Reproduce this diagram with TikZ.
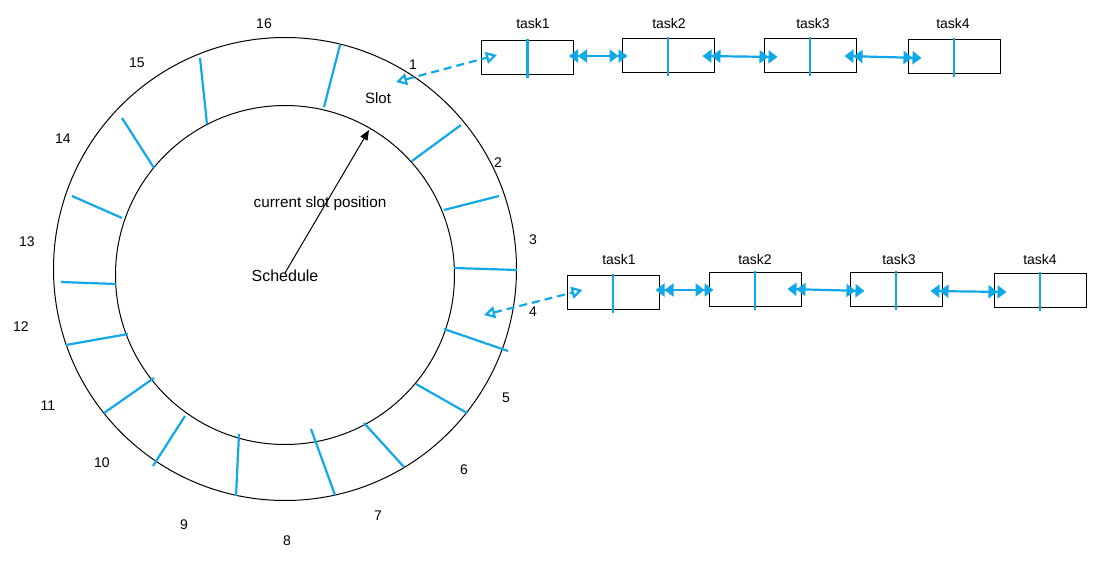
\documentclass[tikz,border=0pt]{standalone}
\usepackage{fontspec}
\setmainfont{Liberation Sans}
\usetikzlibrary{arrows.meta}
\definecolor{cyanblue}{HTML}{10A8E8}
\tikzset{
  ring/.style={circle, draw=black, line width=1pt, inner sep=0pt},
  spoke/.style={draw=cyanblue, line width=2.2pt},
  num/.style={font=\fontsize{14}{16}\selectfont, inner sep=0pt},
  lbl/.style={font=\fontsize{14}{16}\selectfont, inner sep=0pt},
  taskbox/.style={draw=black, line width=1pt, minimum width=92pt, minimum height=34pt, inner sep=0pt},
  divider/.style={draw=cyanblue, line width=2.2pt},
  link/.style={draw=cyanblue, line width=2.2pt,
     {Triangle[length=9pt,width=13pt] Triangle[length=9pt,width=13pt]}-{Triangle[length=9pt,width=13pt] Triangle[length=9pt,width=13pt]}},
  ref/.style={draw=cyanblue, line width=2.2pt, dash pattern=on 8pt off 5pt,
     {Triangle[open,length=11pt,width=12pt]}-{Triangle[open,length=11pt,width=12pt]}},
  pointer/.style={draw=black, line width=1pt, -{Triangle[length=10pt,width=8pt]}}
}
\begin{document}
\begin{tikzpicture}[x=1pt,y=-1pt]
\useasboundingbox (0,0) rectangle (1096,564);

% rings
\node[ring, minimum size=463pt] (outer) at (285,269) {};
\node[ring, minimum size=339pt] (inner) at (285,275) {};

% spokes
\draw[spoke] (340,45) -- (324,107);
\draw[spoke] (461,125) -- (412,161);
\draw[spoke] (499,196) -- (444,210);
\draw[spoke] (454,268) -- (517,270);
\draw[spoke] (444,329) -- (508,351);
\draw[spoke] (416,384) -- (467,413);
\draw[spoke] (364,423) -- (404,467);
\draw[spoke] (311,429) -- (335,495);
\draw[spoke] (239,434) -- (236,496);
\draw[spoke] (185,416) -- (153,466);
\draw[spoke] (154,378) -- (104,413);
\draw[spoke] (128,334) -- (66,345);
\draw[spoke] (116,284) -- (61,282);
\draw[spoke] (122,218) -- (72,196);
\draw[spoke] (154,168) -- (122,118);
\draw[spoke] (207,124) -- (200,58);

% slot numbers
\node[num] (n1) at (413,65) {1};
\node[num] (n2) at (498,163) {2};
\node[num] (n3) at (533,240) {3};
\node[num] (n4) at (533,312) {4};
\node[num] (n5) at (506,398) {5};
\node[num] (n6) at (464,470) {6};
\node[num] (n7) at (378,516) {7};
\node[num] (n8) at (287,541) {8};
\node[num] (n9) at (184,525) {9};
\node[num] (n10) at (102,463) {10};
\node[num] (n11) at (48,406) {11};
\node[num] (n12) at (21,327) {12};
\node[num] (n13) at (27,242) {13};
\node[num] (n14) at (63,139) {14};
\node[num] (n15) at (137,63) {15};
\node[num] (n16) at (264,24) {16};

% centre texts
\node[font=\fontsize{15}{17}\selectfont, inner sep=0pt] (slot) at (378,98) {Slot};
\node[font=\fontsize{15.3}{17}\selectfont, inner sep=0pt] (cur) at (320,204) {current slot position};
\node[font=\fontsize{16}{18}\selectfont, inner sep=0pt] (sched) at (285,276) {Schedule};
\coordinate (schedpt) at (285,273);
\coordinate (curslot) at (369,130);
\draw[pointer] (schedpt) -- (curslot);

% top task list
\node[taskbox] (t1a) at (527.5,58) {};
\node[taskbox] (t2a) at (668,56) {};
\node[taskbox] (t3a) at (810,56) {};
\node[taskbox] (t4a) at (954,57) {};
\node[lbl] (l1a) at (533,23) {task1};
\node[lbl] (l2a) at (669,23) {task2};
\node[lbl] (l3a) at (813,23) {task3};
\node[lbl] (l4a) at (953,23) {task4};
\foreach \t in {t1a,t2a,t3a,t4a}
  \draw[divider] ([yshift=1pt]\t.north) -- ([yshift=-3pt]\t.south);
\draw[link] ([xshift=-5pt,yshift=2pt]t1a.east) -- ([xshift=6pt]t2a.west);
\draw[link] ([xshift=-12pt]t2a.east) -- ([xshift=14pt,yshift=-1pt]t3a.west);
\draw[link] ([xshift=-12pt]t3a.east) -- ([xshift=14pt,yshift=-1pt]t4a.west);
\coordinate (slot1) at (396,82);
\draw[ref] (slot1) -- ([xshift=16pt,yshift=3pt]t1a.west);

% bottom task list
\node[taskbox] (t1b) at (613,293) {};
\node[taskbox] (t2b) at (755,290) {};
\node[taskbox] (t3b) at (896,290) {};
\node[taskbox] (t4b) at (1040,291) {};
\node[lbl] (l1b) at (619,259) {task1};
\node[lbl] (l2b) at (755,259) {task2};
\node[lbl] (l3b) at (899,259) {task3};
\node[lbl] (l4b) at (1040,259) {task4};
\foreach \t in {t1b,t2b,t3b,t4b}
  \draw[divider] ([yshift=1pt]\t.north) -- ([yshift=-3pt]\t.south);
\draw[link] ([xshift=-4pt,yshift=3pt]t1b.east) -- ([xshift=5pt]t2b.west);
\draw[link] ([xshift=-14pt,yshift=1pt]t2b.east) -- ([xshift=15pt,yshift=-1pt]t3b.west);
\draw[link] ([xshift=-12pt,yshift=-1pt]t3b.east) -- ([xshift=13pt,yshift=-1pt]t4b.west);
\coordinate (slot4) at (484,315);
\draw[ref] (slot4) -- ([xshift=16pt,yshift=3pt]t1b.west);
\end{tikzpicture}
\end{document}
